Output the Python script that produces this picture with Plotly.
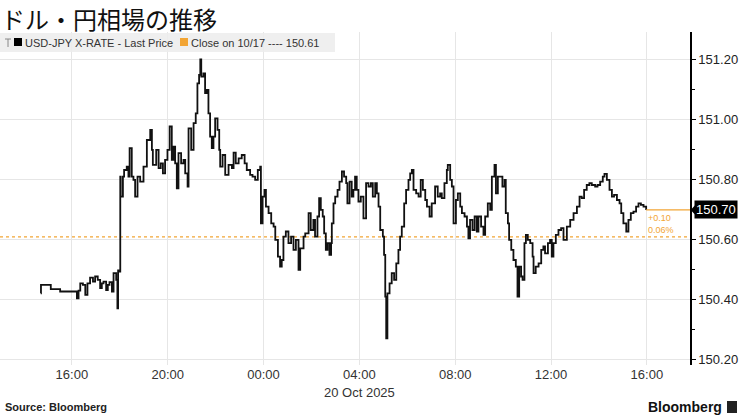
import pandas as pd
import plotly.graph_objects as go

# ---- data (hours since 2025-10-19 00:00 JST, USD-JPY last price) ----
hours = [14.70, 14.71, 15.10, 15.12, 15.48, 15.51, 16.14, 16.21, 16.28, 16.35, 16.46, 16.56, 16.65, 16.76,
         16.88, 16.97, 17.08, 17.18, 17.25, 17.32, 17.43, 17.50, 17.57, 17.67, 17.74, 17.85, 17.90, 17.93,
         17.99, 18.02, 18.04, 18.13, 18.18, 18.29, 18.36, 18.41, 18.50, 18.57, 18.64, 18.74, 18.85, 18.99,
         19.13, 19.27, 19.34, 19.38, 19.52, 19.62, 19.71, 19.80, 19.89, 19.99, 20.08,
         20.17, 20.24, 20.31, 20.38, 20.45, 20.56, 20.66, 20.73, 20.83, 20.87, 20.98, 21.08, 21.17, 21.24,
         21.31, 21.36, 21.40, 21.49, 21.56, 21.63, 21.70, 21.77, 21.84, 21.91, 21.98, 22.08, 22.15, 22.19,
         22.29, 22.40, 22.54, 22.68, 22.75, 22.84, 22.96, 23.09, 23.21, 23.30, 23.44, 23.54, 23.65, 23.76,
         23.86, 23.89, 23.96, 24.04, 24.10, 24.21, 24.32, 24.42, 24.49, 24.60, 24.69, 24.76, 24.83, 24.93,
         25.04, 25.15, 25.25, 25.35, 25.46, 25.53, 25.67,
         25.74, 25.88, 25.97, 26.08, 26.15, 26.25, 26.32, 26.39, 26.47, 26.53, 26.60, 26.67, 26.75, 26.82,
         26.85, 26.92, 26.99, 27.09, 27.17, 27.27, 27.36, 27.45, 27.50, 27.59, 27.68, 27.75, 27.82, 27.89,
         27.96, 28.06, 28.17, 28.28, 28.38, 28.48, 28.56, 28.66, 28.73, 28.80, 28.87, 28.98, 29.03, 29.08,
         29.12, 29.17, 29.26, 29.35, 29.45, 29.54, 29.63, 29.70, 29.77, 29.87, 29.95, 30.05, 30.12, 30.19,
         30.26, 30.37, 30.47, 30.56, 30.65, 30.75, 30.82, 30.93, 31.02, 31.16,
         31.27, 31.37, 31.44, 31.55, 31.65, 31.69, 31.79, 31.86, 31.93, 32.03, 32.11, 32.21, 32.28, 32.39,
         32.49, 32.55, 32.62, 32.72, 32.81, 32.90, 32.97, 33.08, 33.18, 33.25, 33.36, 33.46, 33.53, 33.64,
         33.70, 33.78, 33.88, 33.97, 34.06, 34.11, 34.20, 34.25, 34.34, 34.43, 34.53, 34.60, 34.67, 34.75,
         34.81, 34.89, 34.95, 35.03, 35.13, 35.23, 35.27, 35.36, 35.48, 35.59, 35.68, 35.75, 35.87, 35.96,
         36.03, 36.10, 36.20, 36.31, 36.42,
         36.52, 36.66, 36.80, 36.94, 37.08, 37.19, 37.28, 37.38, 37.49, 37.60, 37.70, 37.84, 37.94, 38.05,
         38.16, 38.23, 38.33, 38.44, 38.54, 38.63, 38.75, 38.86, 38.93, 39.02, 39.14, 39.23, 39.33, 39.44,
         39.55, 39.65, 39.75, 39.86, 39.97]
prices = [150.422, 150.450, 150.450, 150.436, 150.436, 150.428, 150.428, 150.405, 150.431, 150.455, 150.450, 150.417, 150.455, 150.474,
          150.461, 150.478, 150.467, 150.439, 150.455, 150.461, 150.433, 150.450, 150.459, 150.428, 150.489, 150.467, 150.372, 150.498,
          150.494, 150.811, 150.744, 150.811, 150.833, 150.844, 150.811, 150.906, 150.811, 150.800, 150.744, 150.811, 150.794, 150.844,
          150.933, 150.967, 150.900, 150.850, 150.900, 150.839, 150.855, 150.822, 150.867, 150.900, 150.978,
          150.867, 150.911, 150.855, 150.772, 150.889, 150.855, 150.867, 150.822, 150.778, 150.972, 150.900, 150.989, 151.022, 151.122,
          151.150, 151.202, 151.144, 151.155, 151.089, 151.100, 151.022, 150.944, 150.906, 150.944, 151.005, 150.967, 150.900, 150.844,
          150.883, 150.817, 150.850, 150.839, 150.891, 150.855, 150.872, 150.883, 150.855, 150.833, 150.817, 150.811, 150.800, 150.833,
          150.844, 150.655, 150.744, 150.767, 150.711, 150.689, 150.655, 150.644, 150.600, 150.544, 150.511, 150.533, 150.611, 150.628,
          150.589, 150.611, 150.567, 150.600, 150.500, 150.572, 150.611,
          150.622, 150.689, 150.633, 150.667, 150.611, 150.678, 150.739, 150.700, 150.678, 150.622, 150.567, 150.589, 150.550, 150.589,
          150.655, 150.722, 150.744, 150.767, 150.794, 150.828, 150.811, 150.789, 150.722, 150.794, 150.744, 150.767, 150.811, 150.767,
          150.728, 150.744, 150.672, 150.789, 150.778, 150.789, 150.744, 150.789, 150.755, 150.711, 150.633, 150.611, 150.550, 150.411,
          150.272, 150.422, 150.455, 150.489, 150.467, 150.522, 150.567, 150.611, 150.644, 150.722, 150.767, 150.800, 150.822, 150.833,
          150.767, 150.755, 150.744, 150.800, 150.767, 150.733, 150.711, 150.678, 150.722, 150.778,
          150.744, 150.755, 150.739, 150.789, 150.833, 150.850, 150.800, 150.778, 150.655, 150.733, 150.755, 150.711, 150.689, 150.678,
          150.644, 150.605, 150.667, 150.633, 150.678, 150.628, 150.678, 150.644, 150.617, 150.678, 150.722, 150.700, 150.811, 150.850,
          150.755, 150.811, 150.811, 150.778, 150.800, 150.689, 150.655, 150.600, 150.567, 150.533, 150.511, 150.411, 150.511, 150.478,
          150.467, 150.589, 150.617, 150.600, 150.589, 150.544, 150.489, 150.511, 150.522, 150.567, 150.578, 150.555, 150.589, 150.600,
          150.544, 150.589, 150.617, 150.633, 150.639,
          150.600, 150.644, 150.667, 150.689, 150.711, 150.744, 150.739, 150.767, 150.783, 150.789, 150.783, 150.778, 150.783, 150.794,
          150.811, 150.820, 150.800, 150.767, 150.744, 150.750, 150.733, 150.722, 150.689, 150.655, 150.628, 150.667, 150.689, 150.694,
          150.711, 150.722, 150.717, 150.711, 150.700]

prev_close = 150.61
last_price = 150.70
change_text = "+0.10"
change_pct_text = "0.06%"
series_name = "USD-JPY X-RATE - Last Price"
close_label = "Close on 10/17 ---- 150.61"
y_ticks = [150.20, 150.40, 150.60, 150.80, 151.00, 151.20]
x_range = ["2025-10-19 13:00", "2025-10-20 17:48"]
y_range = [150.183, 151.293]

base = pd.Timestamp("2025-10-19 00:00")
times = base + pd.to_timedelta(hours, unit="h")

ORANGE = "#f2a535"
FONT = "Liberation Sans, Arial, sans-serif"

fig = go.Figure()
fig.add_trace(go.Scatter(x=times, y=prices, mode="lines", line=dict(color="#111111", width=1.8, shape="hv"),
                         name=series_name, showlegend=False, hoverinfo="x+y"))

# previous close dotted line
fig.add_shape(type="line", xref="paper", x0=0, x1=1, yref="y", y0=prev_close, y1=prev_close,
              line=dict(color=ORANGE, width=1.2, dash="dot"), layer="below")
# last price line
fig.add_shape(type="line", xref="x", x0=times[-1], x1=x_range[1], yref="y", y0=last_price, y1=last_price,
              line=dict(color=ORANGE, width=1.2))

# last price label with pointer
fig.add_shape(type="path", xref="paper", yref="y",
              path=f"M 1.001,{last_price} L 1.012,{last_price + 0.027} L 1.012,{last_price - 0.027} Z",
              fillcolor="black", line=dict(width=0))
fig.add_annotation(xref="paper", x=1.006, yref="y", y=last_price, xanchor="left", yanchor="middle",
                   text=f"{last_price:.2f}", showarrow=False, bgcolor="black", borderpad=1,
                   font=dict(color="white", size=13, family=FONT))
fig.add_annotation(xref="x", x=times[-1], yref="y", y=last_price, xanchor="left", yanchor="top",
                   text=f"{change_text}<br>{change_pct_text}", showarrow=False, align="left",
                   xshift=0, yshift=-1, font=dict(color=ORANGE, size=9, family=FONT))

# legend bar
fig.add_shape(type="rect", xref="paper", yref="paper", x0=0, x1=335 / 690, y0=1 - 20 / 333, y1=1 - 1 / 333,
              fillcolor="rgba(236,236,236,0.85)", line=dict(width=0), layer="above")
fig.add_shape(type="line", xref="paper", yref="paper", x0=5 / 690, x1=11 / 690, y0=1 - 7 / 333, y1=1 - 7 / 333,
              line=dict(color="#888888", width=1))
fig.add_shape(type="line", xref="paper", yref="paper", x0=8 / 690, x1=8 / 690, y0=1 - 7 / 333, y1=1 - 15 / 333,
              line=dict(color="#888888", width=1))
fig.add_shape(type="rect", xref="paper", yref="paper", x0=14 / 690, x1=22 / 690, y0=1 - 14 / 333, y1=1 - 6 / 333,
              fillcolor="black", line=dict(width=0))
fig.add_shape(type="rect", xref="paper", yref="paper", x0=180 / 690, x1=188 / 690, y0=1 - 14 / 333, y1=1 - 6 / 333,
              fillcolor=ORANGE, line=dict(width=0))
fig.add_annotation(xref="paper", yref="paper", x=23 / 690, y=1 - 10.5 / 333, xanchor="left", yanchor="middle",
                   text=series_name, showarrow=False, font=dict(color="#333333", size=11, family=FONT))
fig.add_annotation(xref="paper", yref="paper", x=189 / 690, y=1 - 10.5 / 333, xanchor="left", yanchor="middle",
                   text=close_label, showarrow=False, font=dict(color="#333333", size=11, family=FONT))

# title
fig.add_annotation(xref="paper", yref="paper", x=0, y=1 + 32 / 333, xanchor="left", yanchor="top", xshift=0,
                   borderpad=0, text="ドル・円相場の推移", showarrow=False,
                   font=dict(color="#111111", size=24, family="Noto Sans CJK JP"))
# date under axis
fig.add_annotation(xref="x", x="2025-10-20 04:00", yref="paper", y=-27 / 333, xanchor="center", yanchor="middle",
                   text="20 Oct 2025", showarrow=False, font=dict(color="#333333", size=13, family=FONT))
# source & brand
fig.add_annotation(xref="paper", x=0, yref="paper", y=-42 / 333, xanchor="left", yanchor="middle", xshift=3,
                   text="<b>Source: Bloomberg</b>", showarrow=False, font=dict(color="#222222", size=11, family=FONT))
fig.add_annotation(xref="paper", x=724 / 690, yref="paper", y=-42 / 333, xanchor="right", yanchor="middle",
                   text="<b>Bloomberg</b>", showarrow=False, font=dict(color="#111111", size=14, family=FONT))
fig.add_shape(type="rect", xref="paper", yref="paper", x0=727 / 690, x1=737 / 690, y0=-48 / 333, y1=-36 / 333,
              fillcolor="#222222", line=dict(width=0))

fig.update_layout(
    width=740, height=416,
    margin=dict(l=0, r=50, t=32, b=51),
    plot_bgcolor="white", paper_bgcolor="white",
    showlegend=False,
    font=dict(family=FONT, size=13, color="#333333"),
    xaxis=dict(type="date", range=x_range, tick0="2025-10-19 00:00", dtick=4 * 3600 * 1000,
               tickformat="%H:%M", showgrid=True, gridcolor="#e6e6e6", gridwidth=1,
               showline=False, zeroline=False, ticks="", tickfont=dict(size=13, color="#333333")),
    yaxis=dict(range=y_range, side="right", tickvals=y_ticks, tickformat=".2f",
               showgrid=True, gridcolor="#e6e6e6", gridwidth=1, zeroline=False,
               showline=True, linecolor="black", linewidth=1.5, ticks="outside", ticklen=4,
               tickcolor="black", tickwidth=1,
               minor=dict(dtick=0.1, ticks="outside", ticklen=3, tickcolor="black", showgrid=False),
               tickfont=dict(size=13, color="#222222")),
)

fig.write_html("out.html", config={"displayModeBar": False},
               post_script="document.body.style.margin='0px';document.body.style.overflow='hidden';")
